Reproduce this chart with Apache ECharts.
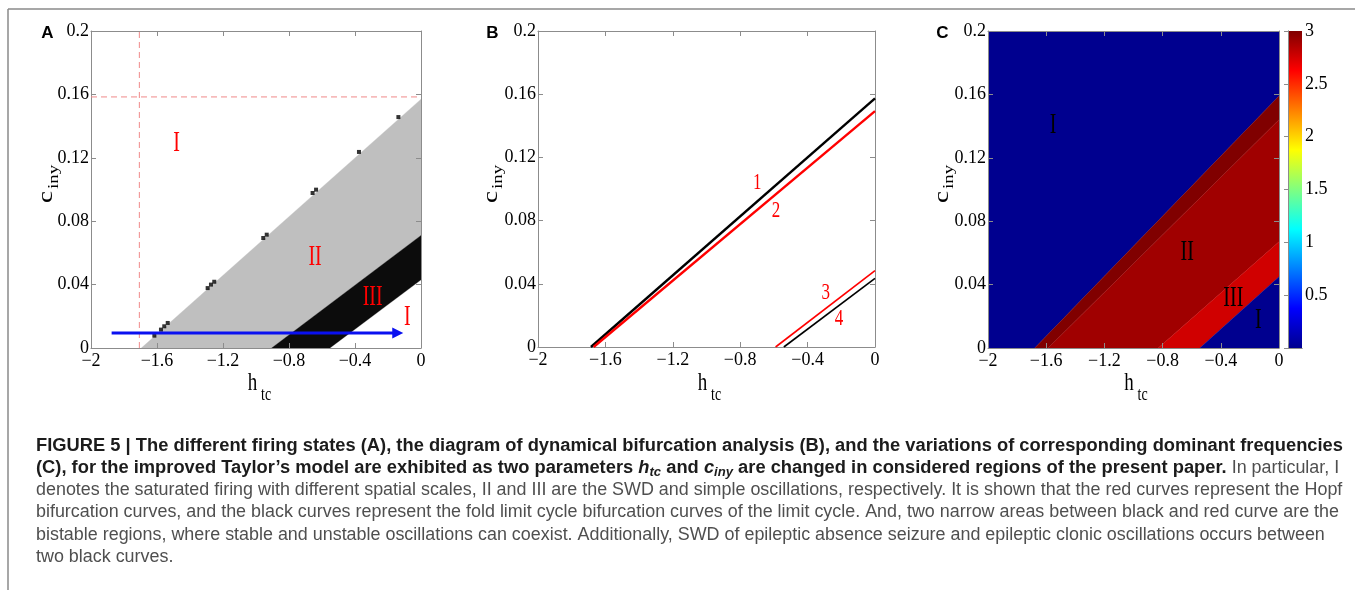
<!DOCTYPE html>
<html><head><meta charset="utf-8">
<script src="https://cdn.jsdelivr.net/npm/echarts@6/dist/echarts.min.js"></script>
<style>html,body{margin:0;padding:0;background:#fff}#c{width:1355px;height:590px}</style>
</head><body><div id="c"></div>
<script>
// ---------------- data ----------------
const xTicks = [-2, -1.6, -1.2, -0.8, -0.4, 0];
const yTicks = [0, 0.04, 0.08, 0.12, 0.16, 0.2];
const cbTicks = [0.5, 1, 1.5, 2, 2.5, 3];
const cbRange = [0, 3];

// Panel A: firing-state regions, vertices [h_tc, c_iny]
const regionA_II = [[-1.695, 0], [0, 0.157], [0, 0.071], [-0.905, 0]];
const regionA_III = [[-0.905, 0], [0, 0.071], [0, 0.043], [-0.552, 0]];
const dotsA = [[-1.616, 0.0078], [-1.576, 0.0116], [-1.556, 0.0137], [-1.535, 0.0158],
  [-1.293, 0.0378], [-1.273, 0.0400], [-1.253, 0.0418], [-0.956, 0.0694], [-0.935, 0.0715],
  [-0.657, 0.0978], [-0.636, 0.0999], [-0.376, 0.1237], [-0.137, 0.1457]];
const dashV = [[-1.707, 0], [-1.707, 0.2]];
const dashH = [[-2, 0.1584], [0, 0.1584]];
const arrowA = [[-1.875, 0.0095], [-0.141, 0.0095]];
const labelsA = [['I', -1.481, 0.129], ['II', -0.642, 0.0574], ['III', -0.293, 0.0322], ['I', -0.083, 0.0193]];

// Panel B: bifurcation curves
const fold1 = [[-1.686, 0], [0, 0.1573]];
const hopf2 = [[-1.670, 0], [0, 0.1493]];
const hopf3 = [[-0.590, 0], [0, 0.0484]];
const fold4 = [[-0.541, 0], [0, 0.0435]];
const labelsB = [['1', -0.699, 0.1037], ['2', -0.588, 0.0857], ['3', -0.292, 0.034], ['4', -0.213, 0.0175]];

// Panel C: dominant-frequency regions and their values
const regionC_Itop = [[-2, 0], [-1.679, 0], [0, 0.159], [0, 0.2], [-2, 0.2]];
const regionC_band = [[-1.679, 0], [0, 0.159], [0, 0.144], [-1.587, 0]];
const regionC_II = [[-1.587, 0], [0, 0.144], [0, 0.067], [-0.83, 0]];
const regionC_III = [[-0.83, 0], [0, 0.067], [0, 0.045], [-0.544, 0]];
const regionC_Ibot = [[-0.544, 0], [0, 0.045], [0, 0]];
const valuesC = [0, 3.0, 2.905, 2.764, 0];
const labelsC = [['I', -1.553, 0.1408], ['II', -0.631, 0.0604], ['III', -0.314, 0.0314], ['I', -0.142, 0.0177]];

const jet = ['#00008f', '#0000ff', '#0080ff', '#00ffff', '#80ff80', '#ffff00', '#ff8000', '#ff0000', '#800000'];

// ---------------- layout ----------------
const grids = [
  { left: 91, top: 31, width: 330, height: 317 },
  { left: 538, top: 31, width: 337, height: 316 },
  { left: 988, top: 31, width: 291, height: 317 },
  { left: 1288, top: 31, width: 14, height: 317 }
];
const BOX = '#8c8c8c';
const SERIF = 'Liberation Serif';
const fmt = v => { const s = String(Math.round(v * 100) / 100); return s.replace('-', '\u2212'); };

const xAxes = [], yAxes = [];
for (let g = 0; g < 3; g++) {
  const common = { gridIndex: g, type: 'value', splitLine: { show: false }, z: 3,
    axisLine: { show: true, onZero: false, lineStyle: { color: BOX, width: 1 } },
    axisTick: { show: true, inside: true, length: 5, lineStyle: { color: BOX } } };
  xAxes.push(Object.assign({}, common, { position: 'bottom', min: xTicks[0], max: xTicks[xTicks.length - 1], interval: 0.4,
    axisLabel: { margin: 4, color: '#000', fontFamily: SERIF, fontSize: 18, formatter: fmt } }));
  xAxes.push(Object.assign({}, common, { position: 'top', min: xTicks[0], max: xTicks[xTicks.length - 1], interval: 0.4,
    axisLabel: { show: false } }));
  yAxes.push(Object.assign({}, common, { position: 'left', min: yTicks[0], max: yTicks[yTicks.length - 1], interval: 0.04,
    axisLabel: { margin: 2, color: '#000', fontFamily: SERIF, fontSize: 18, formatter: fmt } }));
  yAxes.push(Object.assign({}, common, { position: 'right', min: yTicks[0], max: yTicks[yTicks.length - 1], interval: 0.04,
    axisLabel: { show: false } }));
}
// colorbar box + ticks
xAxes.push({ gridIndex: 3, type: 'value', min: 0, max: 1, position: 'bottom', z: 3, splitLine: { show: false },
  axisLine: { show: true, lineStyle: { color: BOX } }, axisTick: { show: false }, axisLabel: { show: false } });
xAxes.push({ gridIndex: 3, type: 'value', min: 0, max: 1, position: 'top', z: 3, splitLine: { show: false },
  axisLine: { show: true, lineStyle: { color: BOX } }, axisTick: { show: false }, axisLabel: { show: false } });
yAxes.push({ gridIndex: 3, type: 'value', min: cbRange[0], max: cbRange[1], interval: 0.5, position: 'left', z: 3, splitLine: { show: false },
  axisLine: { show: true, lineStyle: { color: BOX } }, axisTick: { show: false }, axisLabel: { show: false } });
yAxes.push({ gridIndex: 3, type: 'value', min: cbRange[0], max: cbRange[1], interval: 0.5, position: 'right', z: 3, splitLine: { show: false },
  axisLine: { show: true, lineStyle: { color: BOX } }, axisTick: { show: true, inside: true, length: 4, lineStyle: { color: BOX } },
  axisLabel: { margin: 3, color: '#000', fontFamily: SERIF, fontSize: 18,
    formatter: v => (cbTicks.indexOf(Math.round(v * 10) / 10) >= 0 ? String(Math.round(v * 10) / 10) : '') } });

// ---------------- series helpers ----------------
function polygonSeries(g, polys, vals, colors) {
  return {
    type: 'custom', xAxisIndex: g * 2, yAxisIndex: g * 2, silent: true, clip: true, z: 2,
    data: polys.map((p, i) => [p[0][0], p[0][1], vals ? vals[i] : i]),
    renderItem(params, api) {
      const poly = polys[params.dataIndex];
      const fill = colors ? colors[params.dataIndex] : api.visual('color');
      return { type: 'polygon', shape: { points: poly.map(pt => api.coord(pt)) },
        style: { fill: fill, stroke: fill, lineWidth: 0.3 } };
    }
  };
}
function textSeries(g, labels, color, fontSize, sy) {
  return {
    type: 'custom', xAxisIndex: g * 2, yAxisIndex: g * 2, silent: true, z: 6,
    data: labels.map(l => [l[1], l[2]]),
    renderItem(params, api) {
      const p = api.coord([api.value(0), api.value(1)]);
      return { type: 'text', x: p[0], y: p[1], scaleY: sy,
        style: { text: labels[params.dataIndex][0], fill: color, fontSize: fontSize, fontFamily: SERIF,
          align: 'center', verticalAlign: 'middle' } };
    }
  };
}
function lineSeries(g, data, color, width, type) {
  return { type: 'line', xAxisIndex: g * 2, yAxisIndex: g * 2, data: data, showSymbol: false, symbol: 'none',
    silent: true, z: 4, lineStyle: { color: color, width: width, type: type || 'solid' } };
}

const series = [
  // Panel A
  polygonSeries(0, [regionA_II, regionA_III], null, ['#bfbfbf', '#0c0c0c']),
  { type: 'scatter', xAxisIndex: 0, yAxisIndex: 0, data: dotsA, symbol: 'rect', symbolSize: 4, silent: true, z: 4,
    itemStyle: { color: '#000' } },
  lineSeries(0, dashV, '#f08a8a', 1, [6, 4]),
  lineSeries(0, dashH, '#f08a8a', 1, [6, 4]),
  { type: 'line', xAxisIndex: 0, yAxisIndex: 0, silent: true, z: 5, showSymbol: true,
    lineStyle: { color: '#0a10f0', width: 3 }, itemStyle: { color: '#0a10f0' },
    data: [{ value: arrowA[0], symbol: 'none' },
           { value: arrowA[1], symbol: 'triangle', symbolSize: [11, 11], symbolRotate: -90 }] },
  textSeries(0, labelsA, '#ff0000', 20, 1.5),
  // Panel B
  lineSeries(1, fold1, '#000000', 2.4),
  lineSeries(1, hopf2, '#ff0000', 2.4),
  lineSeries(1, hopf3, '#ff0000', 1.6),
  lineSeries(1, fold4, '#000000', 1.6),
  textSeries(1, labelsB, '#ff0000', 17, 1.3),
  // Panel C
  polygonSeries(2, [regionC_Itop, regionC_band, regionC_II, regionC_III, regionC_Ibot], valuesC, null),
  textSeries(2, labelsC, '#000000', 20, 1.5),
  // colorbar (jet, 0..3)
  { type: 'custom', xAxisIndex: 6, yAxisIndex: 6, silent: true, z: 2, clip: false,
    data: [[0, cbRange[0], 1, cbRange[1]]],
    renderItem(params, api) {
      const p0 = api.coord([api.value(0), api.value(1)]);
      const p1 = api.coord([api.value(2), api.value(3)]);
      return { type: 'rect', shape: { x: p0[0], y: p1[1], width: p1[0] - p0[0], height: p0[1] - p1[1] },
        style: { fill: new echarts.graphic.LinearGradient(0, 1, 0, 0, jet.map((c, i) => ({ offset: i / (jet.length - 1), color: c }))) } };
    } }
];
const cSeriesIndex = 11;

// ---------------- graphic texts ----------------
const graphics = [];
graphics.push({ type: 'line', shape: { x1: 8, y1: 9, x2: 1355, y2: 9 }, style: { stroke: '#8a8a8a', lineWidth: 1.5 }, silent: true });
graphics.push({ type: 'line', shape: { x1: 8, y1: 9, x2: 8, y2: 590 }, style: { stroke: '#8a8a8a', lineWidth: 1.5 }, silent: true });
[['A', 47.5], ['B', 492.5], ['C', 942.5]].forEach(([t, x]) => graphics.push({ type: 'text', x: x, y: 33,
  style: { text: t, fontFamily: 'Liberation Sans', fontWeight: 'bold', fontSize: 17, fill: '#000', align: 'center', verticalAlign: 'middle' } }));
// axis names
const hPos = [[252.5, 383, 261, 395], [702.5, 383, 711, 395], [1129, 383, 1137.5, 395]];
const cPos = [[47, 197, 54, 177], [492, 197, 498, 177], [943, 197, 949, 177]];
hPos.forEach(p => {
  graphics.push({ type: 'text', x: p[0], y: p[1], scaleY: 1.35, style: { text: 'h', fontFamily: SERIF, fontSize: 19, fill: '#000', align: 'center', verticalAlign: 'middle' } });
  graphics.push({ type: 'text', x: p[2], y: p[3], scaleY: 1.35, style: { text: 'tc', fontFamily: SERIF, fontSize: 14, fill: '#000', align: 'left', verticalAlign: 'middle' } });
});
cPos.forEach(p => {
  graphics.push({ type: 'text', x: p[0], y: p[1], rotation: Math.PI / 2, scaleX: 1.35, style: { text: 'c', fontFamily: SERIF, fontSize: 20, fill: '#000', align: 'center', verticalAlign: 'middle' } });
  graphics.push({ type: 'text', x: p[2], y: p[3], rotation: Math.PI / 2, scaleX: 1.35, style: { text: 'iny', fontFamily: SERIF, fontSize: 14, fill: '#000', align: 'center', verticalAlign: 'middle' } });
});

// caption
const FS = 17.5, SUBFS = 12.5;
const SANS = '"Liberation Sans"';
const ctx = document.createElement('canvas').getContext('2d');
const meas = (font, t) => { ctx.font = font; return ctx.measureText(t).width; };
const fB = `normal bold ${FS}px ${SANS}`, fR = `normal normal ${FS}px ${SANS}`,
  fBI = `italic bold ${FS}px ${SANS}`, fS = `italic bold ${SUBFS}px ${SANS}`;
const L1 = 'FIGURE 5 | The different firing states (A), the diagram of dynamical bifurcation analysis (B), and the variations of corresponding dominant frequencies';
const L2a = '(C), for the improved Taylor\u2019s model are exhibited as two parameters ', L2b = ' and ',
  L2c = ' are changed in considered regions of the present paper.', L2r = ' In particular, I';
const L3 = 'denotes the saturated firing with different spatial scales, II and III are the SWD and simple oscillations, respectively. It is shown that the red curves represent the Hopf';
const L4 = 'bifurcation curves, and the black curves represent the fold limit cycle bifurcation curves of the limit cycle. And, two narrow areas between black and red curve are the';
const L5 = 'bistable regions, where stable and unstable oscillations can coexist. Additionally, SWD of epileptic absence seizure and epileptic clonic oscillations occurs between';
const L6 = 'two black curves.';
const capX = 36;
const capY = [446, 468.2, 490.4, 512.6, 534.8, 557];
const sB = 1307 / meas(fB, L1);
const sR = 1303 / meas(fR, L4);
const CB = '#1c1c1c', CR = '#4f4f4f';
const plain = (t, y, bold) => ({ type: 'text', x: capX, y: y, scaleX: bold ? sB : sR,
  style: { text: t, fontFamily: 'Liberation Sans', fontSize: FS, fontWeight: bold ? 'bold' : 'normal', fill: bold ? CB : CR,
    align: 'left', verticalAlign: 'middle', lineHeight: 22 } });
graphics.push(plain(L1, capY[0], true));
const richB = { fontFamily: 'Liberation Sans', fontSize: FS, fontWeight: 'bold', fill: CB, lineHeight: 22 };
graphics.push({ type: 'text', x: capX, y: capY[1], scaleX: sB,
  style: { text: `{b|${L2a}}{bi|h}{s|tc}{b|${L2b}}{bi|c}{s|iny}{b|${L2c}}`, align: 'left', verticalAlign: 'middle',
    rich: { b: richB, bi: Object.assign({}, richB, { fontStyle: 'italic' }),
      s: { fontFamily: 'Liberation Sans', fontSize: SUBFS, fontWeight: 'bold', fontStyle: 'italic', fill: CB, lineHeight: 12, verticalAlign: 'bottom' } } } });
const w2 = (meas(fB, L2a) + meas(fBI, 'h') + meas(fS, 'tc') + meas(fB, L2b) + meas(fBI, 'c') + meas(fS, 'iny') + meas(fB, L2c)) * sB;
graphics.push(Object.assign(plain(L2r, capY[1], false), { x: capX + w2 }));
graphics.push(plain(L3, capY[2], false));
graphics.push(plain(L4, capY[3], false));
graphics.push(plain(L5, capY[4], false));
graphics.push(plain(L6, capY[5], false));

const chart = echarts.init(document.getElementById('c'), null, { renderer: 'canvas' });
chart.setOption({
  animation: false,
  backgroundColor: '#fff',
  grid: grids,
  xAxis: xAxes,
  yAxis: yAxes,
  visualMap: [{ type: 'continuous', show: false, min: cbRange[0], max: cbRange[1], dimension: 2, seriesIndex: cSeriesIndex,
    inRange: { color: jet } }],
  series: series,
  graphic: graphics
});
</script></body></html>
